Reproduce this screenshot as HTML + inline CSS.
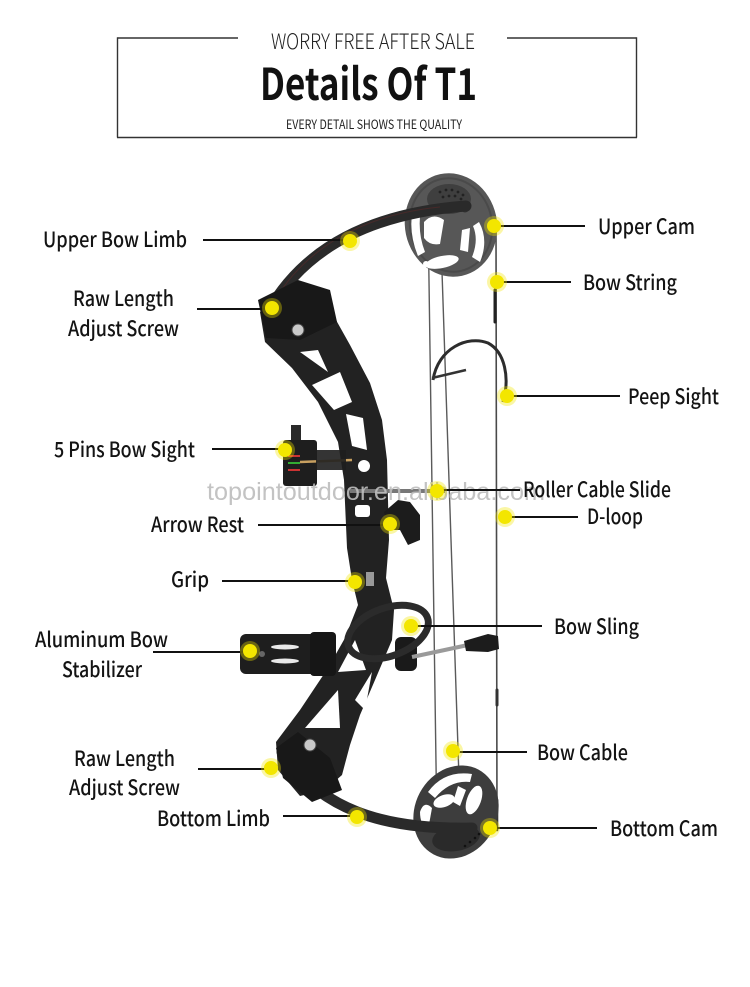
<!DOCTYPE html>
<html>
<head>
<meta charset="utf-8">
<style>
html,body{margin:0;padding:0;background:#fff;}
body{width:750px;height:987px;overflow:hidden;}
svg{display:block;}
.lb{font-family:"Noto Sans CJK SC","Liberation Sans",sans-serif;font-weight:500;font-size:21px;fill:#141414;}
</style>
</head>
<body>
<svg width="750" height="987" viewBox="0 0 750 987" xmlns="http://www.w3.org/2000/svg">
<rect width="750" height="987" fill="#fff"/>

<!-- Header box -->
<g stroke="#333" stroke-width="1.4" fill="none">
<line x1="117.5" y1="38" x2="238" y2="38"/>
<line x1="507" y1="38" x2="636.5" y2="38"/>
<line x1="117.5" y1="37.3" x2="117.5" y2="137.5"/>
<line x1="636.5" y1="37.3" x2="636.5" y2="137.5"/>
<line x1="117" y1="137.5" x2="637" y2="137.5"/>
</g>
<text x="271" y="49" textLength="204" lengthAdjust="spacingAndGlyphs" font-family="Noto Sans CJK SC, Liberation Sans, sans-serif" font-weight="300" font-size="21" fill="#222">WORRY FREE AFTER SALE</text>
<text x="260" y="100" textLength="217" lengthAdjust="spacingAndGlyphs" font-family="Noto Sans CJK SC, Liberation Sans, sans-serif" font-weight="700" font-size="44" fill="#111">Details Of T1</text>
<text x="286" y="129" textLength="176" lengthAdjust="spacingAndGlyphs" font-family="Noto Sans CJK SC, Liberation Sans, sans-serif" font-weight="400" font-size="12.5" fill="#222">EVERY DETAIL SHOWS THE QUALITY</text>

<!-- ===== BOW ===== -->
<!-- strings / cables (behind) -->
<g fill="none" stroke-linecap="round">
<line x1="428" y1="212" x2="437" y2="832" stroke="#5a5a5a" stroke-width="1.4"/>
<line x1="440" y1="212" x2="460" y2="808" stroke="#5a5a5a" stroke-width="1.4"/>
<line x1="496" y1="226" x2="497" y2="830" stroke="#4a4a4a" stroke-width="1.6"/>
<line x1="495" y1="290" x2="495" y2="322" stroke="#222" stroke-width="3"/>
<line x1="497" y1="800" x2="497" y2="830" stroke="#333" stroke-width="2.6"/>
<line x1="497" y1="690" x2="497" y2="705" stroke="#333" stroke-width="3"/>
</g>

<!-- upper cam -->
<g>
<ellipse cx="451" cy="225" rx="46" ry="52" fill="#575757" transform="rotate(-12 451 225)"/>
<ellipse cx="451" cy="225" rx="41" ry="47" fill="none" stroke="#4a4a4a" stroke-width="2" transform="rotate(-12 451 225)"/>
<ellipse cx="449" cy="199" rx="22" ry="15" fill="#3f3f3f"/>
<g fill="#222">
<circle cx="440" cy="192" r="1.4"/><circle cx="446" cy="190" r="1.4"/><circle cx="452" cy="190" r="1.4"/><circle cx="458" cy="192" r="1.4"/><circle cx="463" cy="195" r="1.4"/>
<circle cx="443" cy="197" r="1.4"/><circle cx="449" cy="196" r="1.4"/><circle cx="455" cy="196" r="1.4"/><circle cx="461" cy="199" r="1.4"/>
</g>
<g fill="#fff">
<path d="M413 208 Q408 232 418 256 L425 252 Q417 232 421 208 Z"/>
<ellipse cx="442" cy="262" rx="17" ry="6" transform="rotate(-12 442 262)"/>
<path d="M479 222 Q489 240 480 262 L472 257 Q479 240 473 226 Z"/>
<path d="M424 222 Q433 212 444 220 L440 244 Q430 246 424 238 Z"/>
<circle cx="426" cy="264" r="3"/>
<path d="M462 230 L470 228 L468 252 L460 250 Z"/>
</g>
<circle cx="465" cy="208" r="4" fill="#ddd" stroke="#333" stroke-width="1"/>
</g>

<!-- lower cam -->
<g>
<ellipse cx="456" cy="812" rx="41" ry="48" fill="#3d3d3d" transform="rotate(28 456 812)"/>
<g fill="#fff">
<path d="M428 792 Q444 770 472 774 L470 782 Q450 780 435 798 Z"/>
<ellipse cx="474" cy="800" rx="7" ry="15" transform="rotate(20 474 800)"/>
<ellipse cx="444" cy="801" rx="11" ry="6" transform="rotate(-20 444 801)"/>
<path d="M420 812 Q424 800 432 808 L428 830 Q420 825 420 812 Z"/>
<path d="M458 786 L466 790 L460 806 L453 802 Z"/>
</g>
<ellipse cx="456" cy="838" rx="24" ry="13" fill="#2a2a2a" transform="rotate(-10 456 838)"/>
<g fill="#111">
<circle cx="470" cy="842" r="1.3"/><circle cx="475" cy="838" r="1.3"/><circle cx="465" cy="846" r="1.3"/><circle cx="479" cy="834" r="1.3"/>
</g>
</g>

<!-- limbs -->
<path d="M268 312 C300 255, 360 214, 466 206" fill="none" stroke="#2a2a2a" stroke-width="11" stroke-linecap="round"/>
<path d="M275 300 C305 250, 360 215, 440 207" fill="none" stroke="#5a2a2a" stroke-width="1" opacity="0.6"/>
<path d="M282 752 C320 808, 380 830, 472 828" fill="none" stroke="#2a2a2a" stroke-width="11" stroke-linecap="round"/>

<!-- riser -->
<path d="M260 312 L298 283 L330 292 L336 320 L350 345 L370 383 L382 420 L387 460 L389 540 L386 578 L394 610 L392 640 L375 680 L360 715 L350 745 L342 775 L325 790 L300 796 L278 770 L276 742 L300 710 L328 668 L345 638 L358 605 L352 580 L347 548 L344 480 L338 442 L318 402 L292 368 L265 342 Z" fill="#222"/>
<!-- pockets -->
<path d="M258 300 L298 280 L330 290 L337 322 L300 340 L266 338 Z" fill="#181818"/>
<circle cx="298" cy="330" r="6" fill="#c9c9c9" stroke="#444" stroke-width="1"/>
<path d="M276 748 L298 732 L330 758 L342 790 L312 802 L283 778 Z" fill="#181818"/>
<circle cx="310" cy="745" r="6" fill="#c9c9c9" stroke="#444" stroke-width="1"/>
<!-- riser cutouts -->
<g fill="#fff">
<path d="M300 352 L318 350 L328 372 Z"/>
<path d="M312 385 L340 372 L352 402 L334 410 Z"/>
<path d="M346 414 L363 418 L367 450 L352 446 Z"/>
<circle cx="364" cy="466" r="6"/>
<rect x="355" y="505" width="15" height="12" rx="3"/>
<path d="M338 672 L355 640 L366 670 Z"/>
<path d="M305 728 L338 690 L340 728 Z"/>
<path d="M355 700 L372 672 L365 710 Z"/>
</g>

<!-- sight -->
<g>
<rect x="291" y="425" width="10" height="20" fill="#2a2a2a"/>
<rect x="283" y="440" width="34" height="46" rx="3" fill="#1e1e1e"/>
<rect x="288" y="455" width="12" height="2" fill="#c33"/>
<rect x="288" y="462" width="12" height="2" fill="#3a3"/>
<rect x="288" y="469" width="12" height="2" fill="#c33"/>
<line x1="300" y1="462" x2="352" y2="460" stroke="#c8a060" stroke-width="2.5"/>
<rect x="316" y="450" width="30" height="20" fill="#1e1e1e" opacity="0.9"/>
</g>

<!-- roller cable slide rod -->
<line x1="350" y1="491" x2="445" y2="491" stroke="#777" stroke-width="4"/>

<!-- arrow rest -->
<path d="M384 512 L398 500 L410 502 L420 515 L420 540 L408 545 L400 530 L388 530 Z" fill="#1c1c1c"/>

<!-- peep hose -->
<path d="M433 380 C438 348, 468 335, 488 343 C505 352, 510 378, 503 402" fill="none" stroke="#2c2c2c" stroke-width="3"/>
<line x1="432" y1="378" x2="466" y2="370" stroke="#333" stroke-width="2.5"/>

<!-- stabilizer -->
<g>
<rect x="240" y="634" width="94" height="40" rx="6" fill="#1e1e1e"/>
<rect x="310" y="632" width="26" height="44" rx="4" fill="#161616"/>
<ellipse cx="285" cy="647" rx="14" ry="2.5" fill="#fff" opacity="0.9"/>
<ellipse cx="285" cy="661" rx="14" ry="2.5" fill="#fff" opacity="0.9"/>
<circle cx="262" cy="654" r="3" fill="#666"/>
</g>
<!-- dampener -->
<rect x="395" y="637" width="22" height="34" rx="6" fill="#1a1a1a"/>
<!-- bow sling -->
<ellipse cx="388" cy="632" rx="42" ry="24" fill="none" stroke="#2b2b2b" stroke-width="7" transform="rotate(-20 388 632)"/>
<!-- cable guard -->
<line x1="412" y1="657" x2="468" y2="645" stroke="#9a9a9a" stroke-width="4"/>
<path d="M464 641 L488 634 L498 636 L499 649 L488 652 L466 651 Z" fill="#1c1c1c"/>

<!-- T1 mark -->
<rect x="366" y="572" width="8" height="14" fill="#ccc" opacity="0.7"/>

<!-- watermark -->
<text x="207" y="500" textLength="338" lengthAdjust="spacingAndGlyphs" font-family="Liberation Sans, sans-serif" font-size="25" fill="#bdbdbd" opacity="0.9">topointoutdoor.en.alibaba.com</text>

<!-- leader lines -->
<g stroke="#111" stroke-width="2">
<line x1="203" y1="240" x2="346" y2="240"/>
<line x1="197" y1="309" x2="268" y2="309"/>
<line x1="212" y1="449" x2="283" y2="449"/>
<line x1="258" y1="525" x2="386" y2="525"/>
<line x1="222" y1="581" x2="351" y2="581"/>
<line x1="153" y1="652" x2="246" y2="652"/>
<line x1="198" y1="769" x2="266" y2="769"/>
<line x1="283" y1="816" x2="352" y2="816"/>
<line x1="500" y1="226" x2="585" y2="226"/>
<line x1="500" y1="282" x2="571" y2="282"/>
<line x1="510" y1="396" x2="620" y2="396"/>
<line x1="443" y1="490" x2="520" y2="490"/>
<line x1="510" y1="517" x2="578" y2="517"/>
<line x1="414" y1="626" x2="542" y2="626"/>
<line x1="458" y1="752" x2="527" y2="752"/>
<line x1="495" y1="828" x2="597" y2="828"/>
</g>

<!-- yellow dots -->
<g fill="#f3e600">
<g opacity="0.35">
<circle cx="350" cy="241" r="10"/><circle cx="272" cy="308" r="10"/><circle cx="285" cy="450" r="10"/>
<circle cx="390" cy="524" r="10"/><circle cx="355" cy="582" r="10"/><circle cx="250" cy="651" r="10"/>
<circle cx="271" cy="768" r="10"/><circle cx="357" cy="817" r="10"/><circle cx="494" cy="226" r="10"/>
<circle cx="497" cy="282" r="10"/><circle cx="507" cy="396" r="10"/><circle cx="437" cy="491" r="10"/>
<circle cx="505" cy="517" r="10"/><circle cx="411" cy="626" r="10"/><circle cx="453" cy="751" r="10"/>
<circle cx="490" cy="828" r="10"/>
</g>
<circle cx="350" cy="241" r="7"/><circle cx="272" cy="308" r="7"/><circle cx="285" cy="450" r="7"/>
<circle cx="390" cy="524" r="7"/><circle cx="355" cy="582" r="7"/><circle cx="250" cy="651" r="7"/>
<circle cx="271" cy="768" r="7"/><circle cx="357" cy="817" r="7"/><circle cx="494" cy="226" r="7"/>
<circle cx="497" cy="282" r="7"/><circle cx="507" cy="396" r="7"/><circle cx="437" cy="491" r="7"/>
<circle cx="505" cy="517" r="7"/><circle cx="411" cy="626" r="7"/><circle cx="453" cy="751" r="7"/>
<circle cx="490" cy="828" r="7"/>
</g>

<!-- labels -->
<text class="lb" x="43" y="247" textLength="144" lengthAdjust="spacingAndGlyphs">Upper Bow Limb</text>
<text class="lb" x="73" y="306" textLength="101" lengthAdjust="spacingAndGlyphs">Raw Length</text>
<text class="lb" x="68" y="336" textLength="111" lengthAdjust="spacingAndGlyphs">Adjust Screw</text>
<text class="lb" x="54" y="457" textLength="141" lengthAdjust="spacingAndGlyphs">5 Pins Bow Sight</text>
<text class="lb" x="151" y="532" textLength="93" lengthAdjust="spacingAndGlyphs">Arrow Rest</text>
<text class="lb" x="171" y="587" textLength="38" lengthAdjust="spacingAndGlyphs">Grip</text>
<text class="lb" x="35" y="647" textLength="133" lengthAdjust="spacingAndGlyphs">Aluminum Bow</text>
<text class="lb" x="62" y="677" textLength="80" lengthAdjust="spacingAndGlyphs">Stabilizer</text>
<text class="lb" x="74" y="766" textLength="101" lengthAdjust="spacingAndGlyphs">Raw Length</text>
<text class="lb" x="69" y="795" textLength="111" lengthAdjust="spacingAndGlyphs">Adjust Screw</text>
<text class="lb" x="157" y="826" textLength="113" lengthAdjust="spacingAndGlyphs">Bottom Limb</text>
<text class="lb" x="598" y="234" textLength="97" lengthAdjust="spacingAndGlyphs">Upper Cam</text>
<text class="lb" x="583" y="290" textLength="94" lengthAdjust="spacingAndGlyphs">Bow String</text>
<text class="lb" x="628" y="404" textLength="91" lengthAdjust="spacingAndGlyphs">Peep Sight</text>
<text class="lb" x="523" y="497" textLength="148" lengthAdjust="spacingAndGlyphs">Roller Cable Slide</text>
<text class="lb" x="587" y="524" textLength="56" lengthAdjust="spacingAndGlyphs">D-loop</text>
<text class="lb" x="554" y="634" textLength="85" lengthAdjust="spacingAndGlyphs">Bow Sling</text>
<text class="lb" x="537" y="760" textLength="91" lengthAdjust="spacingAndGlyphs">Bow Cable</text>
<text class="lb" x="610" y="836" textLength="108" lengthAdjust="spacingAndGlyphs">Bottom Cam</text>
</svg>
</body>
</html>
